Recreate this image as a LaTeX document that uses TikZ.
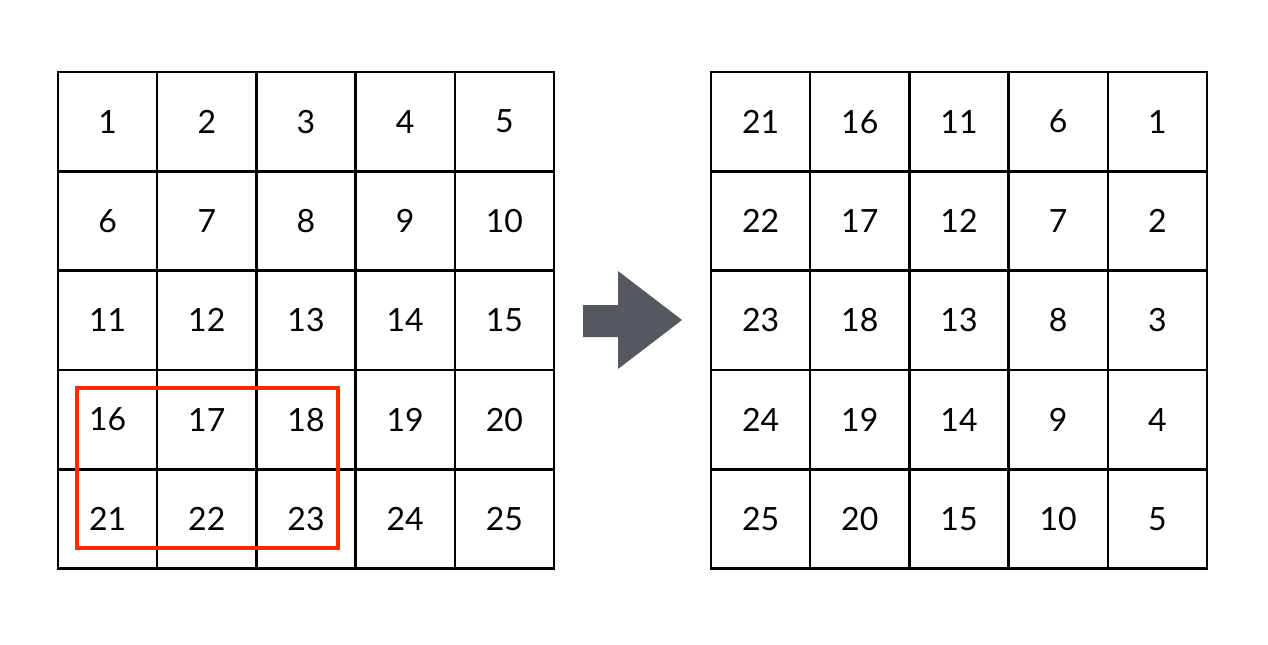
\documentclass[tikz,border=0pt]{standalone}
\usepackage{fontspec}
\setmainfont{Lato}
\definecolor{gridred}{HTML}{FF2A00}
\definecolor{arrowgray}{HTML}{55595F}
\begin{document}
\begin{tikzpicture}[x=0.75pt,y=-0.75pt,
  cell/.style={draw=black, line width=1.9pt, minimum size=74.4pt, inner sep=0pt,
    font=\fontsize{24}{28}\selectfont},
  selbox/.style={draw=gridred, line width=2.3pt},
  bigarrow/.style={fill=arrowgray}]
\useasboundingbox (0,0) rectangle (1268,644);
\foreach \r in {1,...,5}{
  \foreach \c in {1,...,5}{
    \pgfmathtruncatemacro{\lv}{5*(\r-1)+\c}
    \pgfmathtruncatemacro{\rv}{5*(5-\c)+\r}
    \node[cell] (L-\r-\c) at ({58+99.2*(\c-0.5)},{72+99.3*(\r-0.5)}) {\lv};
    \node[cell] (R-\r-\c) at ({711+99.2*(\c-0.5)},{72+99.3*(\r-0.5)}) {\rv};
  }
}
\draw[selbox] (77,388) rectangle (338,548);
\fill[bigarrow] (583,305) -- (618,305) -- (618,271) -- (682,320) -- (618,369) -- (618,337) -- (583,337) -- cycle;
\end{tikzpicture}
\end{document}
